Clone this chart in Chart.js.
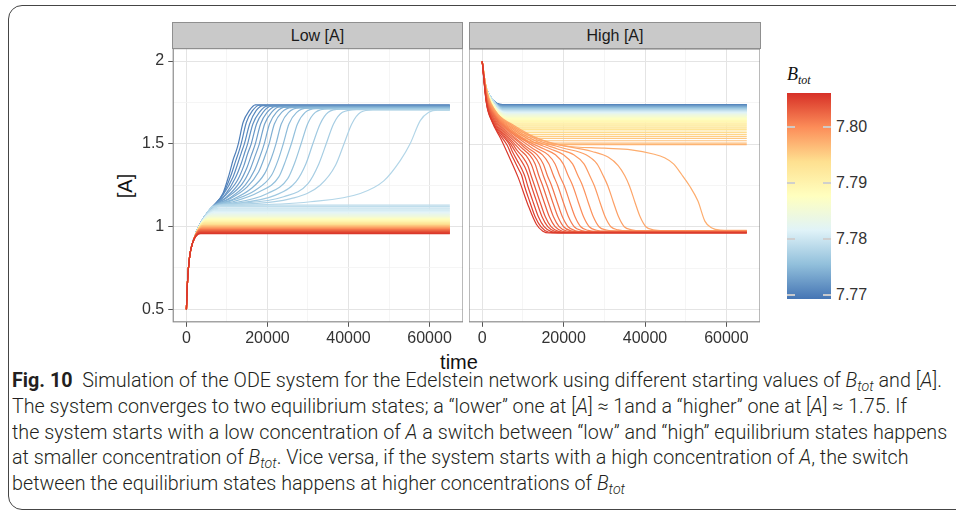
<!DOCTYPE html>
<html>
<head>
<meta charset="utf-8">
<title>Edelstein network - ODE simulation</title>
<script src="https://cdn.jsdelivr.net/npm/chart.js@4.4.1/dist/chart.umd.min.js"></script>
<style>
  html, body { margin: 0; padding: 0; background: #fff; }
  body { width: 956px; height: 516px; position: relative; overflow: hidden;
         font-family: 'Liberation Sans', Arial, Helvetica, sans-serif; color: #1a1a1a; }
  canvas { position: absolute; }
  .abs { position: absolute; }
  .frame { left: 8px; top: 5px; width: 1000px; height: 505px; border: 1.3px solid #454545;
           border-radius: 14px; box-sizing: border-box; }
  .strip { top: 22px; height: 27px; background: #c9c9c9; border: 1px solid #8f8f8f; box-sizing: border-box;
           font-size: 16px; line-height: 25px; text-align: center; color: #1a1a1a; }
  .axisTitle { font-size: 20px; color: #111; white-space: nowrap; }
  .bar { left: 787px; top: 93px; width: 44px; height: 206px; }
  .barTick { height: 2px; width: 8px; background: rgba(205,205,205,0.95); }
  .barLabel { font-size: 16px; color: #333; left: 836px; line-height: 18px; }
  .legendTitle { left: 787px; top: 64px; font-family: 'Liberation Serif', 'DejaVu Serif', serif;
                 font-style: italic; font-size: 18px; color: #111; white-space: nowrap; }
  .legendTitle sub { font-size: 12px; vertical-align: -4px; line-height: 0; }
  .cap { left: 12px; white-space: nowrap; font-size: 19.5px; line-height: 24px; color: #231f20;
         font-family: 'Roboto', 'Liberation Sans', sans-serif; font-weight: 300;
         transform-origin: 0 50%; }
  .cap b { font-weight: 700; }
  .cap sub { font-size: 0.72em; vertical-align: -0.3em; line-height: 0; }
</style>
</head>
<body>
<div class="abs frame"></div>

<canvas id="lowChart"></canvas>
<canvas id="highChart"></canvas>

<div class="abs strip" style="left:172px; width:291px;">Low [A]</div>
<div class="abs strip" style="left:469px; width:292px;">High [A]</div>

<div class="abs axisTitle" id="yTitle" style="left:125px; top:186px; transform: translate(-50%,-50%) rotate(-90deg);">[A]</div>
<div class="abs axisTitle" style="left:459px; top:362px; transform: translate(-50%,-50%);">time</div>

<div class="abs legendTitle">B<sub>tot</sub></div>
<div class="abs bar" id="colourBar"></div>
<div id="barTicks"></div>

<div class="abs cap" id="cap0" style="top:369px;"><b>Fig. 10</b>&nbsp; Simulation of the ODE system for the Edelstein network using different starting values of <i>B</i><sub><i>tot</i></sub> and [<i>A</i>].</div>
<div class="abs cap" id="cap1" style="top:395px;">The system converges to two equilibrium states; a “lower” one at [<i>A</i>] ≈ 1and a “higher” one at [<i>A</i>] ≈ 1.75. If</div>
<div class="abs cap" id="cap2" style="top:421px;">the system starts with a low concentration of <i>A</i> a switch between “low” and “high” equilibrium states happens</div>
<div class="abs cap" id="cap3" style="top:446px;">at smaller concentration of <i>B</i><sub><i>tot</i></sub>. Vice versa, if the system starts with a high concentration of <i>A</i>, the switch</div>
<div class="abs cap" id="cap4" style="top:472px;">between the equilibrium states happens at higher concentrations of <i>B</i><sub><i>tot</i></sub></div>

<script>
// ---- data (time in thousands, value = [A]) ----

// B_tot of every simulated trajectory, same set in both facets
const bTot = [7.7700, 7.7705, 7.7710, 7.7715, 7.7720, 7.7725, 7.7730, 7.7735, 7.7740, 7.7745,
              7.7750, 7.7755, 7.7760, 7.7765, 7.7770, 7.7775, 7.7780, 7.7785, 7.7790, 7.7795,
              7.7800, 7.7805, 7.7810, 7.7815, 7.7820, 7.7825, 7.7830, 7.7835, 7.7840, 7.7845,
              7.7850, 7.7855, 7.7860, 7.7865, 7.7870, 7.7875, 7.7880, 7.7885, 7.7890, 7.7895,
              7.7900, 7.7905, 7.7910, 7.7915, 7.7920, 7.7925, 7.7930, 7.7935, 7.7940, 7.7945,
              7.7950, 7.7955, 7.7960, 7.7965, 7.7970, 7.7975, 7.7980, 7.7985, 7.7990, 7.7995,
              7.8000, 7.8005, 7.8010, 7.8015, 7.8020, 7.8025, 7.8030, 7.8035, 7.8040, 7.8045,
              7.8050, 7.8055];

// Low [A]: common start of every trajectory
const lowStart = [[0, 0.50], [0.3, 0.68], [0.8, 0.82], [1.5, 0.90]];
// further common rise of the trajectories that end in the high state
const lowRise = [[2.5, 0.97], [3.5, 1.02], [4.5, 1.06], [6.5, 1.12]];
// the 17 trajectories that switch up (lowest B_tot first)
const lowSwitch = [
  [[9, 1.20], [10.6, 1.32], [11.6, 1.41], [12.2, 1.45], [12.8, 1.50], [14, 1.63], [15.5, 1.70], [17, 1.735], [65, 1.735]],
  [[9, 1.195], [11, 1.31], [12.2, 1.40], [12.9, 1.45], [13.5, 1.50], [14.8, 1.63], [16.3, 1.70], [18, 1.733], [65, 1.733]],
  [[9, 1.19], [11.5, 1.30], [12.8, 1.39], [13.6, 1.45], [14.3, 1.50], [15.6, 1.62], [17.2, 1.70], [19, 1.731], [65, 1.731]],
  [[9.5, 1.19], [12, 1.29], [13.5, 1.38], [14.3, 1.44], [15.1, 1.50], [16.4, 1.62], [18, 1.69], [20, 1.729], [65, 1.729]],
  [[9.5, 1.185], [12.6, 1.28], [14.2, 1.37], [15.1, 1.44], [16, 1.50], [17.3, 1.62], [18.9, 1.69], [21, 1.727], [65, 1.727]],
  [[10, 1.18], [13.2, 1.27], [15, 1.36], [16, 1.43], [17, 1.50], [18.3, 1.62], [19.9, 1.69], [22, 1.725], [65, 1.725]],
  [[10, 1.175], [13.8, 1.26], [15.8, 1.35], [17, 1.43], [18, 1.50], [19.3, 1.62], [21, 1.69], [23, 1.723], [65, 1.723]],
  [[10.5, 1.17], [14.5, 1.25], [16.8, 1.34], [18.1, 1.42], [19.2, 1.50], [20.5, 1.62], [22.2, 1.69], [24.5, 1.721], [65, 1.721]],
  [[10.5, 1.165], [15, 1.24], [17.8, 1.33], [19.3, 1.42], [20.4, 1.50], [21.7, 1.62], [23.5, 1.69], [26, 1.719], [65, 1.719]],
  [[11, 1.16], [16, 1.23], [19.3, 1.32], [20.9, 1.41], [22.1, 1.50], [23.4, 1.62], [25.2, 1.69], [28, 1.717], [65, 1.717]],
  [[11, 1.155], [17, 1.22], [21, 1.31], [22.6, 1.40], [23.9, 1.50], [25.3, 1.62], [27.2, 1.69], [30, 1.715], [65, 1.715]],
  [[11.5, 1.15], [18, 1.21], [22.8, 1.30], [24.5, 1.40], [25.9, 1.50], [27.4, 1.62], [29.3, 1.69], [32, 1.713], [65, 1.713]],
  [[12, 1.145], [20, 1.20], [25, 1.29], [26.8, 1.39], [28.3, 1.50], [29.9, 1.62], [31.8, 1.69], [35, 1.711], [65, 1.711]],
  [[12, 1.14], [22, 1.19], [27, 1.27], [29.5, 1.38], [31.2, 1.50], [33, 1.62], [35, 1.69], [38, 1.709], [65, 1.709]],
  [[12.5, 1.14], [24, 1.18], [30, 1.26], [32.7, 1.38], [34.5, 1.50], [36.3, 1.62], [38.5, 1.69], [42, 1.707], [65, 1.707]],
  [[13, 1.135], [26, 1.17], [33, 1.25], [36.8, 1.37], [38.9, 1.50], [40.8, 1.62], [43, 1.69], [46, 1.705], [65, 1.705]],
  [[14, 1.13], [30.6, 1.15], [42.9, 1.20], [48.7, 1.276], [52.8, 1.40], [55.2, 1.50], [57.7, 1.64], [59.8, 1.69], [62, 1.703], [65, 1.703]]
];
// the 55 trajectories that stay low: end level and time it is reached
const lowStayLevel = [1.130, 1.120, 1.112, 1.105, 1.098, 1.092, 1.087, 1.082, 1.077, 1.073,
                      1.069, 1.065, 1.061, 1.058, 1.055, 1.052, 1.049, 1.046, 1.043, 1.040,
                      1.037, 1.034, 1.032, 1.029, 1.027, 1.024, 1.022, 1.019, 1.017, 1.015,
                      1.012, 1.010, 1.008, 1.006, 1.004, 1.001, 0.999, 0.997, 0.995, 0.993,
                      0.991, 0.989, 0.987, 0.985, 0.983, 0.981, 0.979, 0.977, 0.975, 0.972,
                      0.970, 0.967, 0.964, 0.961, 0.957];
const lowStaySettle = [9, 8.5, 8, 8, 7.5, 7.5, 7, 7, 6.5, 6.5,
                       6.5, 6, 6, 6, 6, 5.5, 5.5, 5.5, 5.5, 5.5,
                       5, 5, 5, 5, 5, 5, 4.5, 4.5, 4.5, 4.5,
                       4.5, 4.5, 4.5, 4, 4, 4, 4, 4, 4, 4,
                       4, 4, 4, 3.5, 3.5, 3.5, 3.5, 3.5, 3.5, 3.5,
                       3.5, 3.5, 3.5, 3.5, 3.5];

// High [A]: common start
const highStart = [[0, 2.00], [0.8, 1.86]];
// the 55 trajectories that stay high: value at t = 2500, end level, time it is reached
const highStayKnee = [1.77, 1.77, 1.77, 1.77, 1.77, 1.77, 1.77, 1.77, 1.77, 1.77,
                      1.77, 1.77, 1.77, 1.77, 1.77, 1.77, 1.77, 1.77, 1.77, 1.77,
                      1.75, 1.75, 1.75, 1.75, 1.75, 1.75, 1.75, 1.75, 1.75, 1.75,
                      1.75, 1.75, 1.75, 1.75, 1.75, 1.73, 1.73, 1.73, 1.73, 1.73,
                      1.73, 1.73, 1.73, 1.73, 1.73, 1.71, 1.71, 1.71, 1.71, 1.71,
                      1.71, 1.71, 1.71, 1.71, 1.71];
const highStayLevel = [1.739, 1.737, 1.735, 1.733, 1.731, 1.729, 1.727, 1.725, 1.723, 1.721,
                       1.719, 1.717, 1.715, 1.713, 1.711, 1.709, 1.706, 1.704, 1.702, 1.699,
                       1.697, 1.694, 1.692, 1.689, 1.686, 1.684, 1.681, 1.678, 1.675, 1.672,
                       1.669, 1.665, 1.662, 1.658, 1.654, 1.650, 1.646, 1.642, 1.637, 1.632,
                       1.627, 1.622, 1.616, 1.610, 1.603, 1.596, 1.588, 1.579, 1.570, 1.559,
                       1.547, 1.534, 1.520, 1.506, 1.497];
const highStaySettle = [5, 5, 5, 5, 5, 5, 5, 5, 5, 5,
                        5, 5, 5, 5, 5, 5, 5, 5, 5, 5,
                        6, 6, 6, 6, 6, 6, 6, 6, 6, 6,
                        6, 6, 6, 6, 6, 8, 8, 8, 8, 8,
                        8, 8, 8, 8, 8, 11, 11, 11, 11, 11,
                        14, 15, 16, 17, 18];
// the 17 trajectories that switch down (lowest B_tot first)
const highSwitch = [
  [[0, 2], [1, 1.83], [3, 1.71], [8, 1.60], [14, 1.53], [20.2, 1.49], [30, 1.475], [36.6, 1.465], [42, 1.44], [44.8, 1.417], [47, 1.38], [49, 1.316], [51, 1.245], [53, 1.155], [54.7, 1.034], [56.3, 0.994], [58.5, 0.98], [65, 0.978]],
  [[0, 2], [1, 1.825], [3, 1.705], [7.6, 1.615], [15, 1.52], [27, 1.455], [31, 1.42], [33.4, 1.37], [35, 1.31], [36.2, 1.245], [37.5, 1.15], [38.8, 1.06], [40.2, 1.0], [42, 0.982], [44.5, 0.977], [65, 0.977]],
  [[0, 2], [1, 1.82], [3, 1.70], [7.4, 1.61], [14, 1.52], [20, 1.475], [25.5, 1.435], [28.2, 1.38], [29.7, 1.31], [30.9, 1.245], [32.2, 1.15], [33.5, 1.06], [34.9, 1.0], [36.7, 0.982], [39, 0.976], [65, 0.976]],
  [[0, 2], [1, 1.815], [3, 1.695], [7.2, 1.605], [13, 1.52], [18.5, 1.47], [22.5, 1.435], [25, 1.38], [26.4, 1.31], [27.6, 1.245], [28.9, 1.15], [30.2, 1.06], [31.6, 1.0], [33.4, 0.981], [35.7, 0.975], [65, 0.975]],
  [[0, 2], [1, 1.81], [3, 1.69], [7, 1.60], [12, 1.52], [16.8, 1.47], [20, 1.435], [22.2, 1.38], [23.5, 1.31], [24.7, 1.245], [26, 1.15], [27.3, 1.06], [28.7, 1.0], [30.5, 0.980], [32.8, 0.974], [65, 0.974]],
  [[0, 2], [1, 1.805], [3, 1.685], [6.8, 1.595], [11, 1.52], [15.2, 1.47], [18, 1.435], [19.9, 1.38], [21.1, 1.31], [22.3, 1.245], [23.6, 1.15], [24.9, 1.06], [26.3, 1.0], [28.1, 0.979], [30.4, 0.973], [65, 0.973]],
  [[0, 2], [1, 1.80], [3, 1.68], [6.6, 1.59], [10.5, 1.52], [13.8, 1.47], [16.2, 1.435], [17.9, 1.38], [19, 1.31], [20.2, 1.245], [21.5, 1.15], [22.8, 1.06], [24.2, 1.0], [26, 0.978], [28.3, 0.972], [65, 0.972]],
  [[0, 2], [1, 1.795], [3, 1.675], [6.4, 1.585], [10, 1.515], [12.6, 1.47], [14.8, 1.435], [16.4, 1.38], [17.5, 1.31], [18.6, 1.245], [19.9, 1.15], [21.2, 1.06], [22.6, 1.0], [24.4, 0.977], [26.7, 0.971], [65, 0.971]],
  [[0, 2], [1, 1.79], [3, 1.67], [6.2, 1.58], [9.5, 1.51], [11.6, 1.47], [13.5, 1.435], [15, 1.38], [16, 1.31], [17.1, 1.245], [18.4, 1.15], [19.7, 1.06], [21.1, 1.0], [22.9, 0.976], [25.2, 0.970], [65, 0.970]],
  [[0, 2], [1, 1.785], [3, 1.665], [6, 1.575], [9, 1.51], [10.8, 1.47], [12.5, 1.435], [14, 1.38], [15, 1.31], [16, 1.245], [17.3, 1.15], [18.6, 1.06], [20, 1.0], [21.8, 0.975], [24.1, 0.969], [65, 0.969]],
  [[0, 2], [1, 1.78], [2.9, 1.66], [5.8, 1.57], [8.5, 1.505], [10, 1.47], [11.6, 1.435], [13, 1.38], [13.9, 1.31], [14.9, 1.245], [16.2, 1.15], [17.5, 1.06], [18.9, 1.0], [20.7, 0.974], [23, 0.968], [65, 0.968]],
  [[0, 2], [1, 1.775], [2.8, 1.655], [5.6, 1.565], [8, 1.50], [9.3, 1.465], [10.8, 1.43], [12.1, 1.375], [13, 1.31], [13.9, 1.245], [15.2, 1.15], [16.5, 1.06], [17.9, 1.0], [19.7, 0.973], [22, 0.967], [65, 0.967]],
  [[0, 2], [1, 1.77], [2.7, 1.65], [5.4, 1.56], [7.5, 1.50], [8.6, 1.46], [10, 1.42], [11.2, 1.37], [12, 1.31], [12.9, 1.245], [14.2, 1.15], [15.5, 1.06], [16.9, 1.0], [18.7, 0.972], [21, 0.966], [65, 0.966]],
  [[0, 2], [1, 1.765], [2.6, 1.645], [5.2, 1.555], [7, 1.50], [8.1, 1.455], [9.3, 1.41], [10.5, 1.36], [11.3, 1.31], [12.1, 1.245], [13.4, 1.15], [14.7, 1.06], [16.1, 1.0], [17.9, 0.971], [20.2, 0.965], [65, 0.965]],
  [[0, 2], [1, 1.76], [2.5, 1.64], [5, 1.55], [6.6, 1.50], [7.5, 1.45], [8.6, 1.40], [9.7, 1.35], [10.4, 1.31], [11.2, 1.245], [12.5, 1.15], [13.8, 1.06], [15.2, 1.0], [17, 0.970], [19.3, 0.964], [65, 0.964]],
  [[0, 2], [1, 1.755], [2.5, 1.635], [4.7, 1.545], [6.2, 1.49], [7, 1.445], [8, 1.395], [9, 1.345], [9.7, 1.31], [10.4, 1.245], [11.7, 1.15], [13, 1.06], [14.4, 1.0], [16.2, 0.968], [18.5, 0.963], [65, 0.963]],
  [[0, 2], [1, 1.75], [2.5, 1.63], [4.5, 1.535], [6.3, 1.44], [8.8, 1.30], [11.2, 1.135], [13.3, 1.015], [14.9, 0.973], [16.5, 0.962], [65, 0.962]]
];

// axes and legend
const xRange = [-3250, 68250];
const yRange = [0.425, 2.075];
const xMajorTicks = [0, 20000, 40000, 60000];
const xMinorTicks = [10000, 30000, 50000];
const yMajorTicks = [0.5, 1, 1.5, 2];
const yMinorTicks = [0.75, 1.25, 1.75];
const legendRange = [7.7692, 7.806];
const legendTicks = [7.77, 7.78, 7.79, 7.80];
const legendTickLabels = ['7.77', '7.78', '7.79', '7.80'];
const palette = ['#4575b4', '#91bfdb', '#e0f3f8', '#ffffbf', '#fee090', '#fc8d59', '#d73027'];

// ---- helpers ----
function hexRgb(h) {
  return [1, 3, 5].map(i => parseInt(h.slice(i, i + 2), 16));
}

function colourFor(b) {
  let f = (b - legendRange[0]) / (legendRange[1] - legendRange[0]);
  f = Math.min(1, Math.max(0, f));
  const pos = f * (palette.length - 1);
  const i = Math.min(palette.length - 2, Math.floor(pos));
  const t = pos - i;
  const a = hexRgb(palette[i]), c = hexRgb(palette[i + 1]);
  const mix = a.map((v, k) => Math.round(v + (c[k] - v) * t));
  return 'rgb(' + mix.join(',') + ')';
}

function lowCurves() {
  const curves = [];
  lowSwitch.forEach((tail, i) => {
    curves.push({ b: bTot[i], pts: lowStart.concat(lowRise, tail) });
  });
  lowStayLevel.forEach((level, j) => {
    curves.push({ b: bTot[lowSwitch.length + j], pts: lowStart.concat([[lowStaySettle[j], level], [65, level]]) });
  });
  return curves;
}

function highCurves() {
  const curves = [];
  highStayLevel.forEach((level, j) => {
    curves.push({ b: bTot[j], pts: highStart.concat([[2.5, highStayKnee[j]], [highStaySettle[j], level], [65, level]]) });
  });
  highSwitch.forEach((pts, i) => {
    curves.push({ b: bTot[highStayLevel.length + i], pts: pts });
  });
  return curves;
}

function toDatasets(curves) {
  // highest B_tot first: Chart.js paints the first dataset on top, like the red lines in the figure
  return curves.slice().sort((p, q) => q.b - p.b).map(c => ({
    data: c.pts.map(([t, v]) => ({ x: t * 1000, y: v })),
    borderColor: colourFor(c.b),
    borderWidth: 1.2,
    pointRadius: 0,
    fill: false,
    cubicInterpolationMode: 'monotone'
  }));
}

const panelBorder = {
  id: 'panelBorder',
  afterDraw(chart) {
    const a = chart.chartArea, ctx = chart.ctx;
    ctx.save();
    ctx.strokeStyle = '#8c8c8c';
    ctx.lineWidth = 1.2;
    ctx.strokeRect(a.left, a.top, a.right - a.left, a.bottom - a.top);
    ctx.restore();
  }
};

Chart.defaults.font.family = "'Liberation Sans', Arial, Helvetica, sans-serif";

function panelConfig(curves, withYLabels) {
  const isMajorX = v => xMajorTicks.includes(v);
  const isMajorY = v => yMajorTicks.includes(v);
  return {
    type: 'line',
    data: { datasets: toDatasets(curves) },
    options: {
      responsive: false,
      animation: false,
      events: [],
      layout: { padding: 0 },
      plugins: { legend: { display: false }, tooltip: { enabled: false } },
      scales: {
        x: {
          type: 'linear', min: xRange[0], max: xRange[1],
          afterBuildTicks: axis => { axis.ticks = xMajorTicks.concat(xMinorTicks).sort((p, q) => p - q).map(v => ({ value: v })); },
          ticks: { autoSkip: false, maxRotation: 0, padding: 2, color: '#333', font: { size: 16 },
                   callback: v => isMajorX(v) ? String(v) : '' },
          grid: { color: c => isMajorX(c.tick.value) ? '#e4e4e4' : '#f2f2f2',
                  lineWidth: c => isMajorX(c.tick.value) ? 1 : 0.8,
                  tickColor: c => isMajorX(c.tick.value) ? '#555' : 'rgba(0,0,0,0)',
                  tickLength: 5 },
          border: { display: false }
        },
        y: {
          type: 'linear', min: yRange[0], max: yRange[1],
          afterBuildTicks: axis => { axis.ticks = yMajorTicks.concat(yMinorTicks).sort((p, q) => p - q).map(v => ({ value: v })); },
          ticks: { display: withYLabels, autoSkip: false, padding: 4, color: '#333', font: { size: 16 },
                   callback: v => isMajorY(v) ? String(v) : '' },
          grid: { color: c => isMajorY(c.tick.value) ? '#e4e4e4' : '#f2f2f2',
                  lineWidth: c => isMajorY(c.tick.value) ? 1 : 0.8,
                  drawTicks: withYLabels,
                  tickColor: c => isMajorY(c.tick.value) ? '#555' : 'rgba(0,0,0,0)',
                  tickLength: 5 },
          border: { display: false }
        }
      }
    },
    plugins: [panelBorder]
  };
}

// draw a panel and move its canvas so the plot area lands on the box
function makePanel(id, box, curves, withYLabels) {
  const canvas = document.getElementById(id);
  let w = box.w + 60, h = box.h + 60;
  let chart = null;
  for (let pass = 0; pass < 4; pass++) {
    canvas.width = w; canvas.height = h;
    canvas.style.width = w + 'px'; canvas.style.height = h + 'px';
    chart = new Chart(canvas, panelConfig(curves, withYLabels));
    const a = chart.chartArea;
    const dw = box.w - (a.right - a.left);
    const dh = box.h - (a.bottom - a.top);
    if (Math.abs(dw) < 0.5 && Math.abs(dh) < 0.5) {
      canvas.style.left = (box.x - a.left) + 'px';
      canvas.style.top = (box.y - a.top) + 'px';
      break;
    }
    chart.destroy();
    w = Math.round(w + dw); h = Math.round(h + dh);
  }
  return chart;
}

makePanel('lowChart', { x: 173, y: 49, w: 290, h: 273 }, lowCurves(), true);
makePanel('highChart', { x: 469, y: 49, w: 291, h: 273 }, highCurves(), false);

// colour bar legend
const bar = document.getElementById('colourBar');
bar.style.background = 'linear-gradient(to top, ' + palette.join(', ') + ')';
const barTop = 93, barHeight = 206, barLeft = 787, barWidth = 44;
const tickHolder = document.getElementById('barTicks');
legendTicks.forEach((v, i) => {
  const y = barTop + barHeight * (1 - (v - legendRange[0]) / (legendRange[1] - legendRange[0]));
  [barLeft, barLeft + barWidth - 8].forEach(x => {
    const t = document.createElement('div');
    t.className = 'abs barTick';
    t.style.left = x + 'px';
    t.style.top = (y - 1) + 'px';
    tickHolder.appendChild(t);
  });
  const lab = document.createElement('div');
  lab.className = 'abs barLabel';
  lab.textContent = legendTickLabels[i];
  lab.style.top = (y - 9) + 'px';
  tickHolder.appendChild(lab);
});

// one horizontal squeeze for the whole caption, taken from its two full-width lines
const capLines = [0, 1, 2, 3, 4].map(i => document.getElementById('cap' + i));
const capScale = (932 / capLines[0].getBoundingClientRect().width +
                  933 / capLines[2].getBoundingClientRect().width) / 2;
capLines.forEach(el => { el.style.transform = 'scaleX(' + capScale + ')'; });
</script>
</body>
</html>
